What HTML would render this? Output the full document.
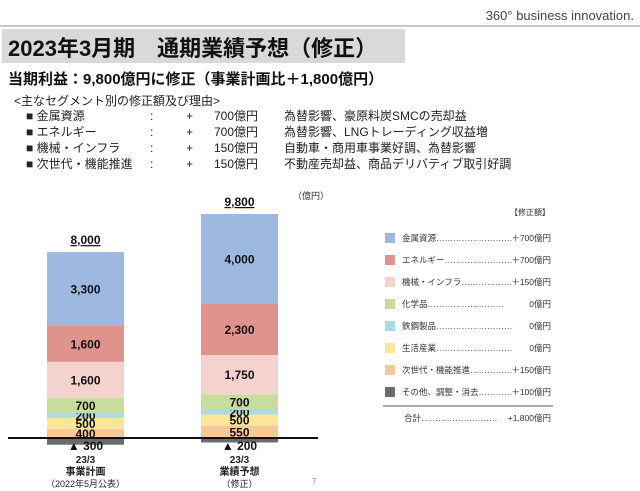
<!DOCTYPE html>
<html><head><meta charset="utf-8"><style>
body{margin:0;width:640px;height:491px;background:#fff;overflow:hidden;font-family:"Liberation Sans","Noto Sans CJK JP",sans-serif;position:relative}
.a{position:absolute;white-space:nowrap;color:#222}
.row{position:relative;height:16px;width:520px;white-space:nowrap}
.row span{white-space:nowrap}
</style></head><body>
<div class="a" style="right:6px;top:8px;font-size:13px;color:#444">360° business innovation.</div>
<div class="a" style="left:0;top:25px;width:640px;height:2px;background:#c8c8c8"></div>
<div class="a" style="left:2px;top:29px;width:403px;height:34px;background:#d9d9d9"></div>
<div class="a" style="left:8px;top:31px;font-size:22px;font-weight:bold;color:#111">2023年3月期　通期業績予想（修正）</div>
<div class="a" style="left:8px;top:68px;font-size:15px;font-weight:bold;color:#111">当期利益：9,800億円に修正（事業計画比＋1,800億円）</div>
<div class="a" style="left:14px;top:92px;font-size:12px">&lt;主なセグメント別の修正額及び理由&gt;</div>
<div style="position:absolute;left:26px;top:108px;width:560px;font-size:12px;line-height:16px;color:#222">
<div class="row"><span>■ 金属資源</span><span style="position:absolute;left:124px">:</span><span style="position:absolute;left:160px">+</span><span style="position:absolute;left:188px">700億円</span><span style="position:absolute;left:258px">為替影響、豪原料炭SMCの売却益</span></div>
<div class="row"><span>■ エネルギー</span><span style="position:absolute;left:124px">:</span><span style="position:absolute;left:160px">+</span><span style="position:absolute;left:188px">700億円</span><span style="position:absolute;left:258px">為替影響、LNGトレーディング収益増</span></div>
<div class="row"><span>■ 機械・インフラ</span><span style="position:absolute;left:124px">:</span><span style="position:absolute;left:160px">+</span><span style="position:absolute;left:188px">150億円</span><span style="position:absolute;left:258px">自動車・商用車事業好調、為替影響</span></div>
<div class="row"><span>■ 次世代・機能推進</span><span style="position:absolute;left:124px">:</span><span style="position:absolute;left:160px">+</span><span style="position:absolute;left:188px">150億円</span><span style="position:absolute;left:258px">不動産売却益、商品デリバティブ取引好調</span></div>
</div>
<svg id="chart" width="640" height="491" style="position:absolute;left:0;top:0" font-family="Liberation Sans, Noto Sans CJK JP, sans-serif"></svg>
<script>
const segments=["金属資源","エネルギー","機械・インフラ","化学品","鉄鋼製品","生活産業","次世代・機能推進","その他、調整・消去"];
const planValues=[3300,1600,1600,700,200,500,400,-300];
const forecastValues=[4000,2300,1750,700,200,500,550,-200];
const totals=[8000,9800];
const revisions=["＋700億円","＋700億円","＋150億円","0億円","0億円","0億円","＋150億円","＋100億円"];
const colors=["#9db9df","#e0928c","#f4d3cf","#c6dd9c","#a8dae8","#fbe69a","#f5c999","#6b6b6b"];
const svg=document.getElementById('chart');const NS="http://www.w3.org/2000/svg";
const base=438,scale=0.0224;
const y=v=>base-v*scale;
function mk(t,a,txt){const e=document.createElementNS(NS,t);for(const k in a)e.setAttribute(k,a[k]);if(txt!==undefined)e.textContent=txt;svg.appendChild(e);return e;}
const bars=[{x:47,vals:planValues,total:totals[0],lab:["23/3","事業計画","（2022年5月公表）"]},{x:201,vals:forecastValues,total:totals[1],lab:["23/3","業績予想","（修正）"]}];
bars.forEach((b,bi)=>{
 let cum=0;
 for(let i=b.vals.length-1;i>=0;i--){
  const v=b.vals[i];
  if(v>=0){
   const r=mk('rect',{x:b.x,y:y(cum+v),width:77,height:v*scale,fill:colors[i]});
   
   
   const t=mk('text',{x:b.x+38.5,y:y(cum+v/2)+4.5,'text-anchor':'middle','font-size':12,'font-weight':'bold',fill:'#111'},v.toLocaleString('en-US'));
   
   
   cum+=v;
  }else{
   const r=mk('rect',{x:b.x,y:base,width:77,height:-v*scale,fill:colors[i]});
   
   
   const t=mk('text',{x:b.x+38.5,y:base+12,'text-anchor':'middle','font-size':12,'font-weight':'bold',fill:'#111'},'▲ '+(-v));
   
   
  }
 }
 const tt=mk('text',{x:b.x+38.5,y:y(cum)-8,'text-anchor':'middle','font-size':12,'font-weight':'bold',fill:'#111','text-decoration':'underline'},b.total.toLocaleString('en-US'));
 
 
 b.lab.forEach((s,k)=>{const t=mk('text',{x:b.x+38.5,y:463+k*12,'text-anchor':'middle','font-size':k==2?9:10,'font-weight':k<2?'bold':'normal',fill:'#222'},s);
  
  });
});
const ax=mk('line',{x1:8,x2:318,y1:base,y2:base,stroke:'#111','stroke-width':2});


const u=mk('text',{x:293,y:199,'font-size':9,fill:'#333'},'（億円）');


const pg=mk('text',{x:312,y:484,'font-size':8,fill:'#888'},'7');


const lh=mk('text',{x:550,y:215,'text-anchor':'end','font-size':8,fill:'#333'},'【修正額】');


segments.forEach((s,i)=>{
 const cy=238+i*22;
 const r=mk('rect',{x:385,y:cy-5,width:10,height:10,fill:colors[i]});
 
 
 const t=mk('text',{x:402,y:cy+3,'font-size':8.5,fill:'#333'},s+'………………………'.slice(0,Math.max(3,13-s.length)));
 
 
 const v=mk('text',{x:551,y:cy+3,'text-anchor':'end','font-size':8.5,fill:'#333'},revisions[i]);
 
 
});
const ll=mk('line',{x1:383,x2:553,y1:406,y2:406,stroke:'#555','stroke-width':1});


const tl=mk('text',{x:404,y:421,'font-size':8.5,fill:'#333'},'合計………………………');


const tv=mk('text',{x:551,y:421,'text-anchor':'end','font-size':8.5,fill:'#333'},'+1,800億円');


</script>
</body></html>
